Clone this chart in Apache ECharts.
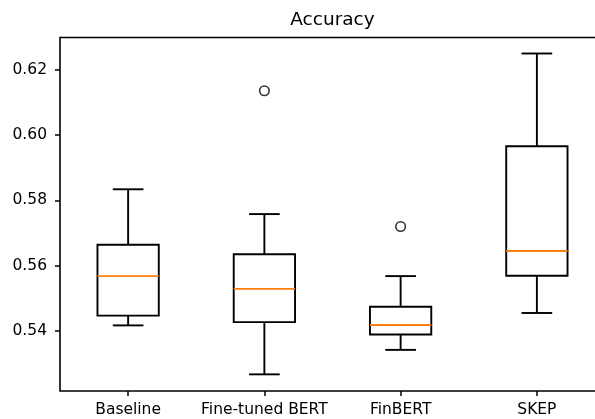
<!DOCTYPE html>
<html>
<head>
<meta charset="utf-8">
<script src="https://cdn.jsdelivr.net/npm/echarts@6/dist/echarts.min.js"></script>
<style>html,body{margin:0;padding:0;background:#fff;}#c{width:595px;height:419px;}</style>
</head>
<body>
<div id="c"></div>
<script>
var categories = ['Baseline', 'Fine-tuned BERT', 'FinBERT', 'SKEP'];
var whiskerLow = [0.5417, 0.5267, 0.5342, 0.5455];
var q1 = [0.5447, 0.5427, 0.5389, 0.5569];
var median = [0.5568, 0.5529, 0.5418, 0.5645];
var q3 = [0.5664, 0.5635, 0.5474, 0.5966];
var whiskerHigh = [0.5834, 0.5758, 0.5568, 0.6250];
var outlierCategories = ['Fine-tuned BERT', 'FinBERT'];
var outlierValues = [0.6136, 0.5720];
var yTicks = [0.54, 0.56, 0.58, 0.60, 0.62];

var FONT = 'DejaVu Sans';
var boxData = categories.map(function (c, i) {
  return [i, whiskerLow[i], q1[i], median[i], q3[i], whiskerHigh[i]];
});
var outlierData = outlierCategories.map(function (c, i) {
  return [categories.indexOf(c), outlierValues[i]];
});

var chart = echarts.init(document.getElementById('c'), null, {renderer: 'canvas'});
var LW = 1.9;
chart.setOption({
  animation: false,
  backgroundColor: '#fff',
  title: {
    text: 'Accuracy',
    left: 332.5,
    top: 11,
    padding: 0,
    textAlign: 'center',
    textStyle: {fontFamily: FONT, fontSize: 18.5, fontWeight: 'normal', color: '#000'}
  },
  grid: {
    left: 60, width: 545, top: 37.5, bottom: 28,
    show: true, borderColor: '#000', borderWidth: 1.6, backgroundColor: 'transparent',
    containLabel: false,
    outerBoundsMode: 'none'
  },
  xAxis: {
    type: 'category',
    data: categories,
    boundaryGap: true,
    axisLine: {show: false},
    axisTick: {show: true, alignWithLabel: true, length: 5, inside: false, lineStyle: {color: '#000', width: 1.5}},
    axisLabel: {fontFamily: FONT, fontSize: 15.5, color: '#000', margin: 10.5, interval: 0},
    splitLine: {show: false}
  },
  yAxis: {
    type: 'value',
    min: 0.5216,
    max: 0.6299,
    axisLine: {show: false},
    axisTick: {show: true, length: 5, lineStyle: {color: '#000', width: 1.5}, customValues: yTicks},
    axisLabel: {fontFamily: FONT, fontSize: 15.5, color: '#000', margin: 13, customValues: yTicks,
      formatter: function (v) { return v.toFixed(2); }},
    splitLine: {show: false}
  },
  series: [
    {
      type: 'custom',
      data: boxData,
      encode: {x: 0, y: [1, 2, 3, 4, 5]},
      renderItem: function (params, api) {
        var idx = api.value(0);
        var band = api.size([1, 0])[0];
        var bw = band * 0.45;
        var cw = bw * 0.5;
        var pLow = api.coord([idx, api.value(1)]);
        var pQ1 = api.coord([idx, api.value(2)]);
        var pMed = api.coord([idx, api.value(3)]);
        var pQ3 = api.coord([idx, api.value(4)]);
        var pHigh = api.coord([idx, api.value(5)]);
        var x = pMed[0];
        var st = {stroke: '#000', lineWidth: LW, fill: null};
        return {
          type: 'group',
          children: [
            {type: 'line', shape: {x1: x, y1: pLow[1], x2: x, y2: pQ1[1]}, style: st},
            {type: 'line', shape: {x1: x, y1: pQ3[1], x2: x, y2: pHigh[1]}, style: st},
            {type: 'line', shape: {x1: x - cw / 2, y1: pLow[1], x2: x + cw / 2, y2: pLow[1]}, style: st},
            {type: 'line', shape: {x1: x - cw / 2, y1: pHigh[1], x2: x + cw / 2, y2: pHigh[1]}, style: st},
            {type: 'rect', shape: {x: x - bw / 2, y: pQ3[1], width: bw, height: pQ1[1] - pQ3[1]}, style: {stroke: '#000', lineWidth: LW, fill: 'none'}},
            {type: 'line', shape: {x1: x - bw / 2, y1: pMed[1], x2: x + bw / 2, y2: pMed[1]}, style: {stroke: '#ff7f0e', lineWidth: LW}}
          ]
        };
      }
    },
    {
      type: 'scatter',
      data: outlierData,
      symbol: 'circle',
      symbolSize: 9.5,
      itemStyle: {color: '#fff', borderColor: '#000', borderWidth: 1.6}
    }
  ]
});
</script>
</body>
</html>
